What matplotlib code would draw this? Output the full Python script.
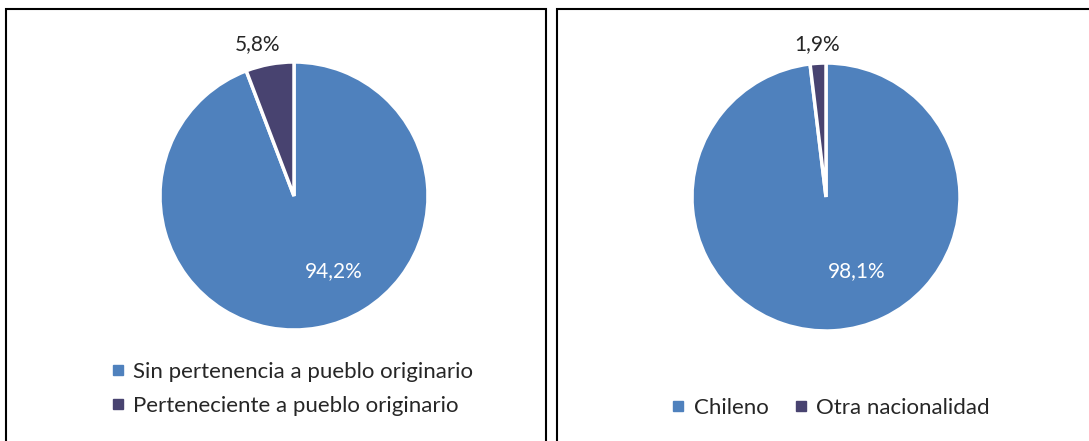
import matplotlib.pyplot as plt
from matplotlib.lines import Line2D
from matplotlib.patches import Rectangle

plt.rcParams['font.family'] = ['Lato', 'DejaVu Sans']

# datos
etnia_labels = ['Sin pertenencia a pueblo originario', 'Perteneciente a pueblo originario']
etnia_vals = [94.2, 5.8]
nac_labels = ['Chileno', 'Otra nacionalidad']
nac_vals = [98.1, 1.9]
colores = ['#4F81BD', '#484370']

W, H = 1089, 441
fig = plt.figure(figsize=(W / 100, H / 100), dpi=100)


def px_axes(cx, cy, r):
    return fig.add_axes([(cx - r) / W, (H - cy - r) / H, 2 * r / W, 2 * r / H])


def fmt(v):
    return f"{v:.1f}".replace('.', ',') + '%'


def pastel(ax, vals, pos_in, pos_out):
    ax.pie(vals, colors=colores, startangle=90, counterclock=False,
           wedgeprops=dict(edgecolor='white', linewidth=2.5))
    ax.set_xlim(-1, 1)
    ax.set_ylim(-1, 1)
    ax.set_aspect('equal')
    ax.axis('off')
    ax.text(*pos_in, fmt(vals[0]), color='white', fontsize=15, ha='center', va='center')
    ax.text(*pos_out, fmt(vals[1]), color='#262626', fontsize=15, ha='center', va='center')


ax1 = px_axes(294, 196, 134)
pastel(ax1, etnia_vals, (0.30, -0.56), (-0.27, 1.13))
ax2 = px_axes(826, 197, 134)
pastel(ax2, nac_vals, (0.23, -0.55), (-0.07, 1.14))

# marcos
fig.patches.append(Rectangle((6 / W, -0.1), 540 / W, 1.1 - 9 / H, transform=fig.transFigure,
                             fill=False, edgecolor='black', linewidth=1.5))
fig.patches.append(Rectangle((557 / W, -0.1), 0.6, 1.1 - 9 / H, transform=fig.transFigure,
                             fill=False, edgecolor='black', linewidth=1.5))


def handles(labels):
    return [Line2D([], [], marker='s', linestyle='none', markersize=7, color=c, label=l)
            for c, l in zip(colores, labels)]


fig.legend(handles=handles(etnia_labels), loc='center left',
           bbox_to_anchor=(110 / W, 1 - 389 / H), frameon=False, fontsize=16,
           handlelength=0.7, handletextpad=0.35, labelspacing=0.65,
           labelcolor='#262626', borderaxespad=0, borderpad=0)
fig.legend(handles=handles(nac_labels), loc='center', ncol=2,
           bbox_to_anchor=(830 / W, 1 - 408 / H), frameon=False, fontsize=16,
           handlelength=0.7, handletextpad=0.35, columnspacing=1.1,
           labelcolor='#262626', borderaxespad=0, borderpad=0)

fig.savefig('out.png', dpi=100, facecolor='white')
